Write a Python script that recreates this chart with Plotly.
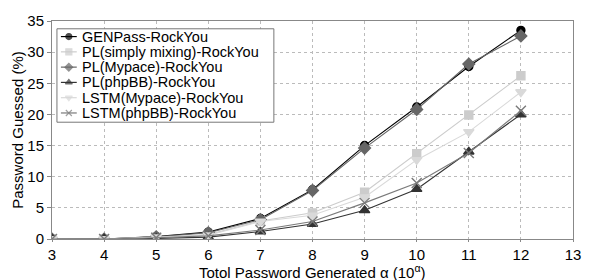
import plotly.graph_objects as go

x_vals = [3, 4, 5, 6, 7, 8, 9, 10, 11, 12]
genpass = [0, 0, 0.4, 1.1, 3.3, 7.9, 15.0, 21.2, 27.7, 33.5]
pl_mix = [0, 0, 0.3, 0.7, 2.9, 4.2, 7.5, 13.7, 19.9, 26.2]
pl_myspace = [0, 0, 0.35, 1.0, 3.1, 7.8, 14.6, 20.8, 28.1, 32.6]
pl_phpbb = [0, 0, 0.1, 0.3, 1.2, 2.4, 4.6, 8.0, 14.0, 20.0]
lstm_myspace = [0, 0, 0.3, 0.6, 2.8, 3.8, 6.7, 12.7, 17.2, 23.6]
lstm_phpbb = [0, 0, 0.2, 0.5, 1.45, 2.8, 5.8, 9.0, 13.8, 20.6]

names = ["GENPass-RockYou", "PL(simply mixing)-RockYou", "PL(Mypace)-RockYou",
         "PL(phpBB)-RockYou", "LSTM(Mypace)-RockYou", "LSTM(phpBB)-RockYou"]
values = [genpass, pl_mix, pl_myspace, pl_phpbb, lstm_myspace, lstm_phpbb]
colors = ["#000000", "#cccccc", "#666666", "#333333", "#d9d9d9", "#7a7a7a"]
symbols = ["circle", "square", "diamond", "triangle-up", "triangle-down", "x-thin-open"]
sizes = [8, 8, 9, 9, 9, 10]

x_title = "Totol Password Generated α (10<sup>α</sup>)"
y_title = "Password Guessed (%)"

FONT = "Liberation Sans, Arial, Helvetica, sans-serif"

fig = go.Figure()
for name, vals, color, sym, size in zip(names, values, colors, symbols, sizes):
    fig.add_trace(go.Scatter(
        x=x_vals, y=vals, name=name, mode="lines+markers",
        line=dict(color=color, width=1.1),
        marker=dict(symbol=sym, size=size, color=color,
                    line=dict(color=color, width=1.4)),
        showlegend=False,
    ))

# ---- hand-built legend on an overlay axis measured in figure pixels ----
L_LEFT, L_RIGHT, L_TOP, L_BOTTOM = 57, 276, 23, 119
ROW0, ROW_STEP = 31, 15.7
fig.add_trace(go.Scatter(
    x=[L_LEFT, L_RIGHT, L_RIGHT, L_LEFT, L_LEFT],
    y=[L_TOP, L_TOP, L_BOTTOM, L_BOTTOM, L_TOP],
    mode="lines", fill="toself", fillcolor="white",
    line=dict(color="#777777", width=1),
    xaxis="x2", yaxis="y2", hoverinfo="skip", showlegend=False,
))
annotations = []
for i, (name, color, sym) in enumerate(zip(names, colors, symbols)):
    ry = ROW0 + i * ROW_STEP
    fig.add_trace(go.Scatter(
        x=[61, 69, 77], y=[ry, ry, ry], mode="lines+markers",
        line=dict(color=color, width=1.2),
        marker=dict(symbol=sym, size=[0, 6, 0], color=color,
                    line=dict(color=color, width=1.2)),
        xaxis="x2", yaxis="y2", hoverinfo="skip", showlegend=False,
    ))
    annotations.append(dict(
        x=80, y=ry, xref="x2", yref="y2", text=name, showarrow=False,
        xanchor="left", yanchor="middle",
        font=dict(family=FONT, size=14.5, color="#000")))

# x-axis title placed as an annotation so it sits fully inside the picture
annotations.append(dict(
    x=0.5, y=-(272 - 239) / 224, xref="paper", yref="paper", text=x_title,
    showarrow=False, xanchor="center", yanchor="middle",
    font=dict(family=FONT, size=15, color="#000")))

fig.update_layout(
    width=593, height=280,
    margin=dict(l=52, r=15, t=15, b=41),
    paper_bgcolor="white", plot_bgcolor="white",
    font=dict(family=FONT, size=15, color="#000"),
    showlegend=False,
    annotations=annotations,
    xaxis2=dict(overlaying="x", anchor="y2", range=[52, 578], visible=False, fixedrange=True),
    yaxis2=dict(overlaying="y", anchor="x2", range=[239, 15], visible=False, fixedrange=True),
    xaxis=dict(
        range=[3, 13], tickmode="linear", tick0=3, dtick=1,
        showgrid=True, gridcolor="#bbbbbb", griddash="dot", gridwidth=1,
        showline=True, linecolor="#888888", linewidth=1, mirror=True,
        ticks="outside", ticklen=2, tickcolor="#888888",
        zeroline=False, tickfont=dict(size=15),
    ),
    yaxis=dict(
        range=[0, 35], tickmode="linear", tick0=0, dtick=5,
        showgrid=True, gridcolor="#bbbbbb", griddash="dot", gridwidth=1,
        showline=True, linecolor="#888888", linewidth=1, mirror=True,
        ticks="outside", ticklen=4, tickcolor="#888888",
        zeroline=False, tickfont=dict(size=15),
        title=dict(text=y_title, standoff=0, font=dict(size=15)),
    ),
)

fig.write_html("out.html", config={"displayModeBar": False},
               post_script="document.body.style.margin='0px';")
